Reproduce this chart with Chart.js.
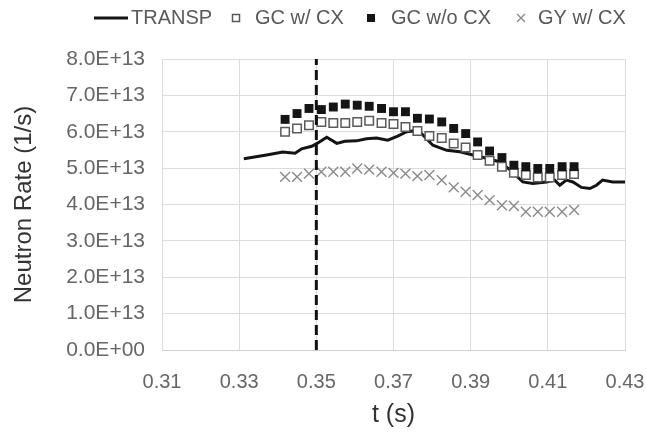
<!DOCTYPE html>
<html>
<head>
<meta charset="utf-8">
<script src="https://cdn.jsdelivr.net/npm/chart.js@4.4.1/dist/chart.umd.min.js"></script>
<style>
    html, body { margin: 0; padding: 0; background: #fff; }
    #wrap { width: 646px; height: 436px; }
</style>
</head>
<body>
<div id="wrap"><canvas id="neutronChart" width="646" height="436"></canvas></div>
<script>
// Neutron rate, in units of 1E+13 1/s

// TRANSP simulation (continuous line)
const transpTime = [0.3312, 0.3371, 0.3413, 0.3445, 0.3462, 0.3488, 0.3502, 0.3527, 0.3553, 0.3574,
    0.3604, 0.3630, 0.3656, 0.3685, 0.3711, 0.3734, 0.3750, 0.3768, 0.3802, 0.3838,
    0.3872, 0.3906, 0.3941, 0.3976, 0.4002, 0.4035, 0.4061, 0.4097, 0.4118, 0.4131,
    0.4148, 0.4165, 0.4187, 0.4209, 0.4226, 0.4242, 0.4268, 0.4300];
const transpRate = [5.26, 5.36, 5.44, 5.41, 5.53, 5.60, 5.68, 5.85, 5.68, 5.74,
    5.75, 5.81, 5.83, 5.77, 5.88, 6.00, 6.02, 6.00, 5.63, 5.49,
    5.45, 5.36, 5.27, 5.17, 4.95, 4.62, 4.58, 4.62, 4.67, 4.53,
    4.67, 4.62, 4.47, 4.44, 4.53, 4.67, 4.62, 4.62];

// time base shared by the GC / GY points
const pointTime = [0.3419, 0.3450, 0.3481, 0.3513, 0.3544, 0.3575, 0.3606, 0.3637, 0.3669, 0.3700,
    0.3731, 0.3762, 0.3793, 0.3825, 0.3856, 0.3887, 0.3918, 0.3949, 0.3981, 0.4012,
    0.4043, 0.4074, 0.4105, 0.4137, 0.4168];
const gcWithCx = [6.00, 6.09, 6.18, 6.27, 6.24, 6.24, 6.27, 6.30, 6.24, 6.21,
    6.13, 6.02, 5.88, 5.83, 5.68, 5.57, 5.36, 5.20, 5.04, 4.87,
    4.81, 4.74, 4.74, 4.81, 4.84];
const gcWithoutCx = [6.34, 6.50, 6.64, 6.61, 6.68, 6.76, 6.73, 6.70, 6.64, 6.55,
    6.55, 6.37, 6.35, 6.27, 6.09, 5.95, 5.72, 5.47, 5.29, 5.08,
    5.04, 4.99, 4.99, 5.04, 5.04];
const gyWithCx = [4.76, 4.76, 4.85, 4.90, 4.90, 4.90, 4.99, 4.96, 4.90, 4.87,
    4.85, 4.78, 4.81, 4.67, 4.47, 4.35, 4.26, 4.12, 3.98, 3.96,
    3.80, 3.80, 3.80, 3.80, 3.85];

// vertical marker at t = 0.35 s
const markerTime = [0.35, 0.35];
const markerRate = [0, 8];

// axis ranges / ticks
const xMin = 0.31, xMax = 0.43, xStep = 0.02;
const yMin = 0, yMax = 8, yStep = 1;

const FONT = '"Liberation Sans", Arial, sans-serif';

function toPoints(xs, ys) {
    return xs.map((x, i) => ({ x: x, y: ys[i] }));
}

// Legend drawn by hand so the symbol spacing can be set per item
const legendLayout = [
    { symbolX: 94, textX: 131 },
    { symbolX: 236, textX: 255 },
    { symbolX: 371, textX: 391 },
    { symbolX: 521, textX: 538 }
];

const manualLegend = {
    id: 'manualLegend',
    afterDraw(chart) {
        const ctx = chart.ctx;
        const y = 18;
        ctx.save();
        ctx.font = '20px ' + FONT;
        ctx.textBaseline = 'middle';
        ctx.fillStyle = '#595959';
        chart.data.datasets.forEach((ds, i) => {
            if (ds.legendIndex === undefined) return;
            const pos = legendLayout[ds.legendIndex];
            const sx = pos.symbolX;
            if (ds.legendSymbol === 'line') {
                ctx.strokeStyle = ds.borderColor;
                ctx.lineWidth = ds.borderWidth;
                ctx.beginPath();
                ctx.moveTo(sx, y);
                ctx.lineTo(sx + 34, y);
                ctx.stroke();
            } else if (ds.legendSymbol === 'openSquare') {
                ctx.fillStyle = '#fff';
                ctx.strokeStyle = ds.pointBorderColor;
                ctx.lineWidth = 1.5;
                ctx.fillRect(sx - 3.5, y - 3.5, 7, 7);
                ctx.strokeRect(sx - 3.5, y - 3.5, 7, 7);
            } else if (ds.legendSymbol === 'filledSquare') {
                ctx.fillStyle = ds.pointBackgroundColor;
                ctx.fillRect(sx - 4, y - 4, 8, 8);
            } else if (ds.legendSymbol === 'cross') {
                ctx.strokeStyle = ds.pointBorderColor;
                ctx.lineWidth = 1.3;
                ctx.beginPath();
                ctx.moveTo(sx - 4, y - 4); ctx.lineTo(sx + 4, y + 4);
                ctx.moveTo(sx + 4, y - 4); ctx.lineTo(sx - 4, y + 4);
                ctx.stroke();
            }
            ctx.fillStyle = '#595959';
            ctx.fillText(ds.label, pos.textX, y);
        });
        ctx.restore();
    }
};

const ctx = document.getElementById('neutronChart').getContext('2d');

const neutronChart = new Chart(ctx, {
    type: 'scatter',
    data: {
        datasets: [
            {
                label: 'marker',
                data: toPoints(markerTime, markerRate),
                showLine: true,
                borderColor: '#111',
                borderWidth: 3,
                borderDash: [10, 5],
                pointRadius: 0,
                order: 0
            },
            {
                label: 'TRANSP',
                data: toPoints(transpTime, transpRate),
                showLine: true,
                borderColor: '#141414',
                borderWidth: 3,
                pointRadius: 0,
                tension: 0,
                order: 4,
                legendIndex: 0,
                legendSymbol: 'line'
            },
            {
                label: 'GC w/ CX',
                data: toPoints(pointTime, gcWithCx),
                pointStyle: 'rect',
                pointRadius: 6,
                pointBackgroundColor: '#fff',
                pointBorderColor: '#5a5a5a',
                pointBorderWidth: 1.5,
                order: 3,
                legendIndex: 1,
                legendSymbol: 'openSquare'
            },
            {
                label: 'GC w/o CX',
                data: toPoints(pointTime, gcWithoutCx),
                pointStyle: 'rect',
                pointRadius: 6.3,
                pointBackgroundColor: '#151515',
                pointBorderColor: '#151515',
                pointBorderWidth: 0,
                order: 2,
                legendIndex: 2,
                legendSymbol: 'filledSquare'
            },
            {
                label: 'GY w/ CX',
                data: toPoints(pointTime, gyWithCx),
                pointStyle: 'crossRot',
                pointRadius: 7,
                pointBorderColor: '#8a8a8a',
                pointBorderWidth: 1.4,
                order: 1,
                legendIndex: 3,
                legendSymbol: 'cross'
            }
        ]
    },
    options: {
        responsive: false,
        animation: false,
        layout: {
            padding: { top: 59, right: 0, left: 0, bottom: 0 }
        },
        plugins: {
            legend: { display: false },
            tooltip: { enabled: false }
        },
        scales: {
            x: {
                type: 'linear',
                min: xMin,
                max: xMax,
                afterFit(scale) {
                    scale.height = 86;
                    scale.paddingLeft = 0;
                    scale.paddingRight = 21;
                },
                afterBuildTicks(scale) {
                    const ticks = [];
                    for (let v = xMin; v <= xMax + 1e-9; v += xStep) ticks.push({ value: +v.toFixed(2) });
                    scale.ticks = ticks;
                },
                grid: { color: '#dcdcdc', lineWidth: 1, drawTicks: false },
                border: { color: '#d0d0d0' },
                ticks: {
                    padding: 20,
                    color: '#666',
                    font: { family: FONT, size: 20 },
                    maxRotation: 0,
                    callback: v => v.toFixed(2)
                },
                title: {
                    display: true,
                    text: 't (s)',
                    color: '#333',
                    font: { family: FONT, size: 25 },
                    padding: { top: 0, bottom: 6 }
                }
            },
            y: {
                min: yMin,
                max: yMax,
                afterFit(scale) { scale.width = 162; },
                grid: { color: '#dcdcdc', lineWidth: 1, drawTicks: false },
                border: { color: '#dcdcdc' },
                ticks: {
                    stepSize: yStep,
                    padding: 17,
                    color: '#666',
                    font: { family: FONT, size: 21 },
                    callback: v => v === 0 ? '0.0E+00' : v.toFixed(1) + 'E+13'
                },
                title: {
                    display: true,
                    text: 'Neutron Rate (1/s)',
                    color: '#333',
                    font: { family: FONT, size: 24 },
                    padding: { top: 10, bottom: 0 }
                }
            }
        }
    },
    plugins: [manualLegend]
});
</script>
</body>
</html>
